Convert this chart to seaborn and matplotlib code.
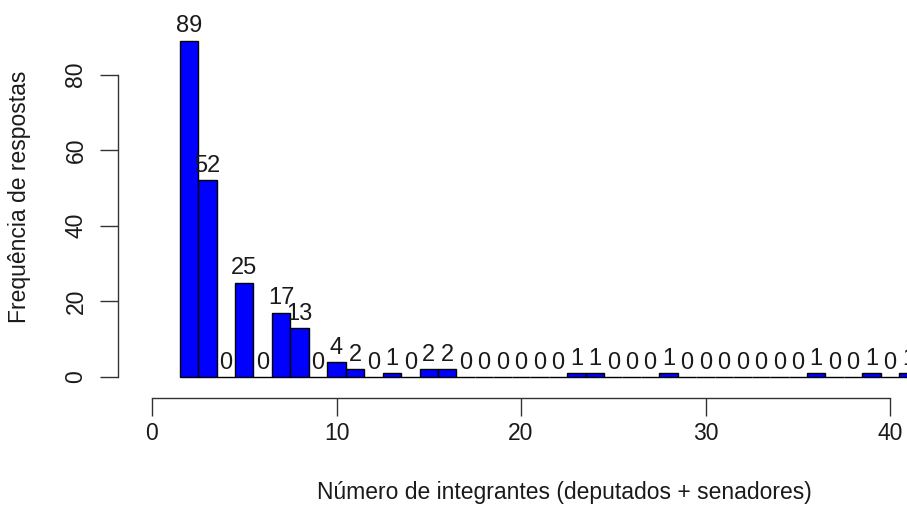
import matplotlib
matplotlib.use("Agg")
import matplotlib.pyplot as plt
import seaborn as sns
import pandas as pd

# Number of members (deputies + senators) per response, and how many responses
integrantes = list(range(2, 42))
frequencia = [89, 52, 0, 25, 0, 17, 13, 0, 4, 2,
              0, 1, 0, 2, 2, 0, 0, 0, 0, 0,
              0, 1, 1, 0, 0, 0, 1, 0, 0, 0,
              0, 0, 0, 0, 1, 0, 0, 1, 0, 1]
x_ticks = [0, 10, 20, 30, 40]
y_ticks = [0, 20, 40, 60, 80]

df = pd.DataFrame({"integrantes": integrantes, "frequencia": frequencia})

sns.set_style("white")
plt.rcParams["font.family"] = ["Liberation Sans", "DejaVu Sans"]

W, H = 907, 505
fig = plt.figure(figsize=(W / 100, H / 100), dpi=100)
# axes box in pixels: left edge = y axis line, bottom edge = x axis line
left, right, bottom, top = 118, 907, 398, 20
ax = fig.add_axes([left / W, 1 - bottom / H, (right - left) / W, (bottom - top) / H])

sns.histplot(data=df, x="integrantes", weights="frequencia", discrete=True,
             color="#0000FF", alpha=1, edgecolor="black", linewidth=1.0, ax=ax)

px_per_x = 18.45
px_per_y = 3.78
x0_px, y0_px = 152, 377
ax.set_xlim((left - x0_px) / px_per_x, (right - x0_px) / px_per_x)
ax.set_ylim(-(bottom - y0_px) / px_per_y, (y0_px - top) / px_per_y)

text_color = "#1a1a1a"
for xv, cnt in zip(integrantes, frequencia):
    ax.annotate(str(cnt), (xv, cnt), xytext=(0, 6), textcoords="offset points",
                ha="center", va="baseline", fontsize=17, color=text_color,
                annotation_clip=False)

for s in ["top", "right"]:
    ax.spines[s].set_visible(False)
ax.spines["left"].set_bounds(0, 80)
ax.spines["bottom"].set_bounds(0, 40)
for s in ["left", "bottom"]:
    ax.spines[s].set_color("#333333")
    ax.spines[s].set_linewidth(1.0)

ax.set_xticks(x_ticks)
ax.set_yticks(y_ticks)
ax.set_yticklabels([str(v) for v in y_ticks], rotation=90, va="center")
ax.tick_params(axis="both", direction="out", length=13, width=1.0,
               color="#333333", labelsize=16.5, labelcolor=text_color,
               bottom=True, left=True)
ax.tick_params(axis="x", pad=4)
ax.tick_params(axis="y", pad=9)

ax.set_xlabel("Número de integrantes (deputados + senadores)", fontsize=16.5,
              color=text_color)
ax.set_ylabel("Frequência de respostas", fontsize=16.5, color=text_color)
ax.xaxis.set_label_coords(564.5 / W, 1 - 492 / H, transform=fig.transFigure)
ax.xaxis.label.set_va("center")
ax.yaxis.set_label_coords(20 / W, 1 - 196.5 / H, transform=fig.transFigure)
ax.yaxis.label.set_va("center")
ax.grid(False)

fig.savefig("out.png", dpi=100)
